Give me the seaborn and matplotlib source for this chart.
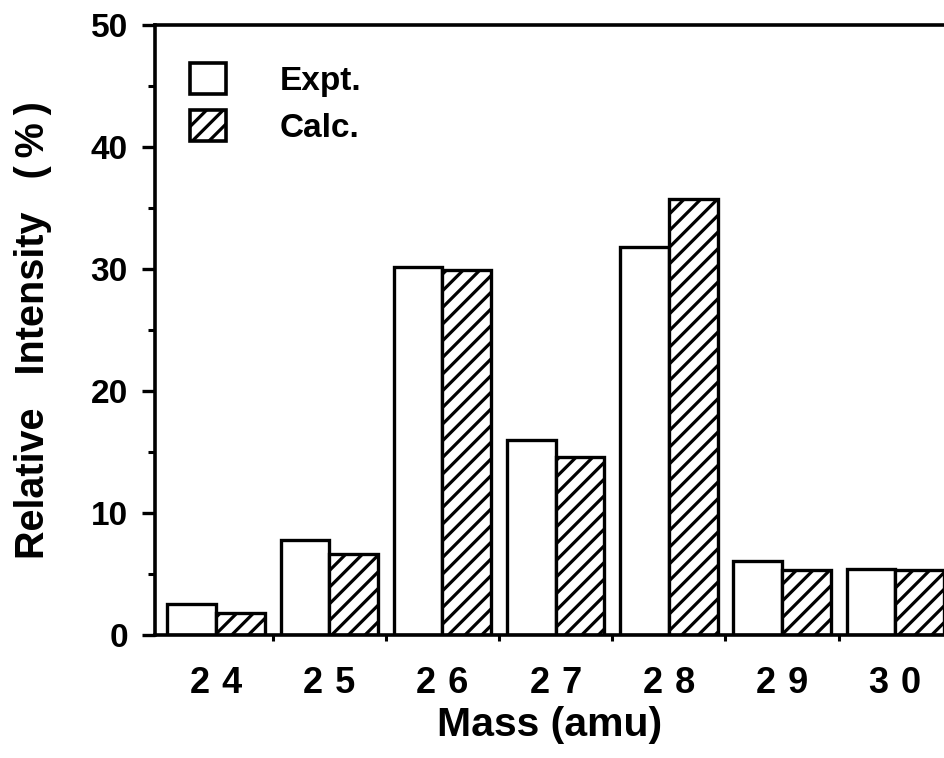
import matplotlib
matplotlib.use("Agg")
import matplotlib.pyplot as plt
import seaborn as sns
import pandas as pd
from matplotlib.patches import Patch
from matplotlib.ticker import MultipleLocator, FixedLocator

masses = ["24", "25", "26", "27", "28", "29", "30"]
tick_labels = ["2\u20044", "2\u20045", "2\u20046", "2\u20047", "2\u20048", "2\u20049", "3\u20040"]
expt = [2.5, 7.8, 30.2, 16.0, 31.8, 6.1, 5.4]
calc = [1.8, 6.6, 29.9, 14.6, 35.7, 5.3, 5.3]
series = ["Expt.", "Calc."]

df = pd.DataFrame({
    "mass": masses * 2,
    "value": expt + calc,
    "series": [series[0]] * len(masses) + [series[1]] * len(masses),
})

sns.set_theme(style="white")
plt.rcParams["font.family"] = ["Liberation Sans", "DejaVu Sans"]
plt.rcParams["font.weight"] = "bold"
plt.rcParams["hatch.linewidth"] = 2.3
plt.rcParams["hatch.color"] = "black"
for k in ["text.color", "axes.labelcolor", "xtick.color", "ytick.color"]:
    plt.rcParams[k] = "black"

fig = plt.figure(figsize=(9.45, 7.58), dpi=100)
ax = fig.add_axes([0.164, 0.1623, 0.836, 0.8047])

sns.barplot(data=df, x="mass", y="value", hue="series", order=masses,
            hue_order=series, width=0.86, ax=ax, legend=False,
            palette=["white", "white"], edgecolor="black", linewidth=2.4,
            saturation=1)

n = len(masses)
for i, p in enumerate(ax.patches[:2 * n]):
    p.set_facecolor("white")
    p.set_edgecolor("black")
    if i >= n:
        p.set_hatch("//")

ax.set_xlim(-0.54, 6.44)
ax.set_ylim(0, 50)

for side in ["left", "top", "bottom"]:
    ax.spines[side].set_visible(True)
    ax.spines[side].set_linewidth(2.6)
    ax.spines[side].set_color("black")
ax.spines["right"].set_visible(False)

ax.yaxis.set_major_locator(MultipleLocator(10))
ax.yaxis.set_minor_locator(MultipleLocator(5))
ax.tick_params(axis="y", which="major", direction="out", length=9.5, width=2.4,
               color="black", left=True, labelsize=24, pad=10)
ax.tick_params(axis="y", which="minor", direction="out", length=5, width=2.2,
               color="black", left=True)

ax.set_xticks(range(n))
ax.set_xticklabels(tick_labels)
ax.xaxis.set_minor_locator(FixedLocator([i + 0.5 for i in range(n)]))
ax.tick_params(axis="x", which="major", length=0, labelsize=26, pad=22)
ax.tick_params(axis="x", which="minor", direction="out", length=4.5,
               width=2.2, color="black", bottom=True)
for t in ax.get_xticklabels() + ax.get_yticklabels():
    t.set_fontweight("bold")

ax.set_xlabel("Mass (amu)", fontsize=29.5, fontweight="bold", labelpad=4)
ax.set_ylabel("Relative   Intensity   (\u2009%\u2009)", fontsize=28.5,
              fontweight="bold", labelpad=28)
ax.grid(False)

handles = [Patch(facecolor="white", edgecolor="black", linewidth=2.6),
           Patch(facecolor="white", edgecolor="black", linewidth=2.6, hatch="//")]
ax.legend(handles, series, loc="upper left", bbox_to_anchor=(0.044, 0.938),
          frameon=False, borderpad=0, borderaxespad=0, handlelength=1.1,
          handleheight=1.05, handletextpad=1.6, labelspacing=0.4,
          prop={"size": 24, "weight": "bold"})

fig.savefig("out.png", dpi=100)
